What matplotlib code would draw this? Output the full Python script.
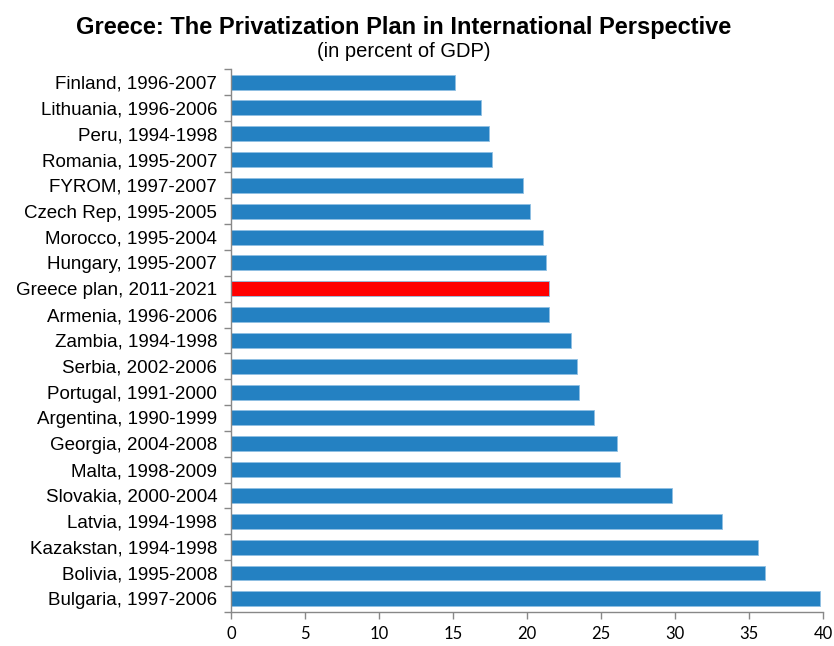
import matplotlib.pyplot as plt
import numpy as np
from matplotlib import font_manager

countries = ["Finland, 1996-2007", "Lithuania, 1996-2006", "Peru, 1994-1998",
             "Romania, 1995-2007", "FYROM, 1997-2007", "Czech Rep, 1995-2005",
             "Morocco, 1995-2004", "Hungary, 1995-2007", "Greece plan, 2011-2021",
             "Armenia, 1996-2006", "Zambia, 1994-1998", "Serbia, 2002-2006",
             "Portugal, 1991-2000", "Argentina, 1990-1999", "Georgia, 2004-2008",
             "Malta, 1998-2009", "Slovakia, 2000-2004", "Latvia, 1994-1998",
             "Kazakstan, 1994-1998", "Bolivia, 1995-2008", "Bulgaria, 1997-2006"]
values = [15.1, 16.9, 17.4, 17.6, 19.7, 20.2, 21.1, 21.3, 21.5, 21.5, 23.0,
          23.4, 23.5, 24.5, 26.1, 26.3, 29.8, 33.2, 35.6, 36.1, 39.8]
highlight = "Greece plan, 2011-2021"

names = {f.name for f in font_manager.fontManager.ttflist}
narrow = "Liberation Sans Narrow" in names
title_font = "Liberation Sans Narrow" if narrow else "Liberation Sans"
plt.rcParams['font.family'] = ['Liberation Sans', 'DejaVu Sans']

colors = ["#ff0000" if c == highlight else "#2481c2" for c in countries]

fig = plt.figure(figsize=(8.34, 6.46), dpi=100)
ax = fig.add_axes([0.277, 0.053, 0.710, 0.840])

y = np.arange(len(countries))
ax.barh(y, values, height=0.58, color=colors, edgecolor="#8fc0e3", linewidth=0.6)
ax.set_ylim(len(countries) - 0.5, -0.5)
ax.set_xlim(0, 40)
ax.set_xticks(range(0, 41, 5))
ax.set_yticks(y)
ax.set_yticklabels(countries, fontsize=13.5)
ax.set_yticks(np.arange(-0.5, len(countries), 1), minor=True)
ax.tick_params(axis='y', which='major', length=0, pad=10)
ax.tick_params(axis='y', which='minor', length=5, color="#888888", width=1)
ax.tick_params(axis='x', length=5, color="#888888", width=1, labelsize=12, pad=5)
for lbl in ax.get_xticklabels():
    lbl.set_family(['Lato', 'Liberation Sans'])

for side in ["top", "right"]:
    ax.spines[side].set_visible(False)
for side in ["left", "bottom"]:
    ax.spines[side].set_color("#888888")
    ax.spines[side].set_linewidth(1)

fig.text(0.484, 0.958, "Greece: The Privatization Plan in International Perspective",
         ha="center", va="center", fontsize=19 if narrow else 17, fontweight="bold",
         family=title_font)
fig.text(0.484, 0.920, "(in percent of GDP)", ha="center", va="center",
         fontsize=15.5 if narrow else 14.5, family=title_font)

fig.savefig("out.png", dpi=100)
